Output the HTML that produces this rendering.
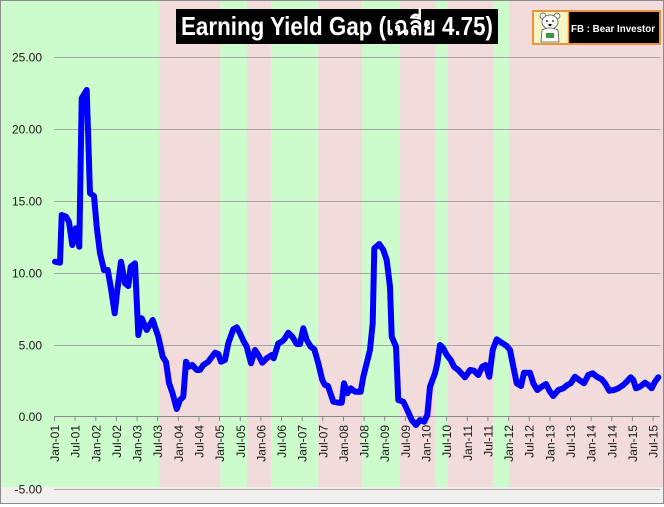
<!DOCTYPE html>
<html><head><meta charset="utf-8"><style>
html,body{margin:0;padding:0;background:#fff;}
svg{display:block;}
text{font-family:"Liberation Sans","DejaVu Sans","Noto Sans CJK SC",sans-serif;}
</style></head><body>
<svg width="664" height="507" viewBox="0 0 664 507" xmlns="http://www.w3.org/2000/svg">
<rect x="0" y="0" width="664" height="507" fill="#ffffff"/>
<rect x="1" y="1" width="662" height="502" fill="#f2efef"/>
<!-- bands -->
<g>
<rect x="1" y="1" width="158.3" height="486" fill="#ccfccc"/>
<rect x="159.3" y="1" width="61" height="486" fill="#f1dcdb"/>
<rect x="220.3" y="1" width="26.7" height="486" fill="#ccfccc"/>
<rect x="247" y="1" width="24.3" height="486" fill="#f1dcdb"/>
<rect x="271.3" y="1" width="47" height="486" fill="#ccfccc"/>
<rect x="318.3" y="1" width="44" height="486" fill="#f1dcdb"/>
<rect x="362.3" y="1" width="37.4" height="486" fill="#ccfccc"/>
<rect x="399.7" y="1" width="35.6" height="486" fill="#f1dcdb"/>
<rect x="435.3" y="1" width="12.7" height="486" fill="#ccfccc"/>
<rect x="448" y="1" width="45" height="486" fill="#f1dcdb"/>
<rect x="493" y="1" width="16" height="486" fill="#ccfccc"/>
<rect x="509" y="1" width="154" height="486" fill="#f1dcdb"/>
</g>
<rect x="0.5" y="0.5" width="663" height="503" fill="none" stroke="#8c8c8c" stroke-width="1"/>
<!-- gridlines -->
<g stroke="#a8a8a8" stroke-width="1">
<line x1="54" y1="57.5" x2="660" y2="57.5"/>
<line x1="54" y1="129.5" x2="660" y2="129.5"/>
<line x1="54" y1="201.5" x2="660" y2="201.5"/>
<line x1="54" y1="273.5" x2="660" y2="273.5"/>
<line x1="54" y1="345.5" x2="660" y2="345.5"/>
<line x1="54" y1="489.5" x2="660" y2="489.5"/>
</g>
<line x1="54" y1="416.5" x2="660" y2="416.5" stroke="#8a8a8a" stroke-width="1"/>
<g stroke="#8a8a8a" stroke-width="1" id="ticks">
<line x1="54.5" y1="416" x2="54.5" y2="421"/><line x1="75.1" y1="416" x2="75.1" y2="421"/><line x1="95.8" y1="416" x2="95.8" y2="421"/><line x1="116.4" y1="416" x2="116.4" y2="421"/><line x1="137.1" y1="416" x2="137.1" y2="421"/><line x1="157.7" y1="416" x2="157.7" y2="421"/><line x1="178.3" y1="416" x2="178.3" y2="421"/><line x1="199" y1="416" x2="199" y2="421"/><line x1="219.6" y1="416" x2="219.6" y2="421"/><line x1="240.3" y1="416" x2="240.3" y2="421"/><line x1="260.9" y1="416" x2="260.9" y2="421"/><line x1="281.5" y1="416" x2="281.5" y2="421"/><line x1="302.2" y1="416" x2="302.2" y2="421"/><line x1="322.8" y1="416" x2="322.8" y2="421"/><line x1="343.5" y1="416" x2="343.5" y2="421"/><line x1="364.1" y1="416" x2="364.1" y2="421"/><line x1="384.7" y1="416" x2="384.7" y2="421"/><line x1="405.4" y1="416" x2="405.4" y2="421"/><line x1="426" y1="416" x2="426" y2="421"/><line x1="446.7" y1="416" x2="446.7" y2="421"/><line x1="467.3" y1="416" x2="467.3" y2="421"/><line x1="487.9" y1="416" x2="487.9" y2="421"/><line x1="508.6" y1="416" x2="508.6" y2="421"/><line x1="529.2" y1="416" x2="529.2" y2="421"/><line x1="549.9" y1="416" x2="549.9" y2="421"/><line x1="570.5" y1="416" x2="570.5" y2="421"/><line x1="591.1" y1="416" x2="591.1" y2="421"/><line x1="611.8" y1="416" x2="611.8" y2="421"/><line x1="632.4" y1="416" x2="632.4" y2="421"/><line x1="653.1" y1="416" x2="653.1" y2="421"/>
</g>
<!-- y labels -->
<g font-size="12" fill="#1a1a1a" text-anchor="end">
<text x="42" y="61.5">25.00</text>
<text x="42" y="133.5">20.00</text>
<text x="42" y="205.5">15.00</text>
<text x="42" y="277.5">10.00</text>
<text x="42" y="349.5">5.00</text>
<text x="42" y="421">0.00</text>
<text x="42" y="493.5">-5.00</text>
</g>
<!-- x labels -->
<g font-size="12" fill="#1a1a1a" text-anchor="end">
<text transform="translate(59,425) rotate(-90)">Jan-01</text>
<text transform="translate(79.6,425) rotate(-90)">Jul-01</text>
<text transform="translate(100.3,425) rotate(-90)">Jan-02</text>
<text transform="translate(120.9,425) rotate(-90)">Jul-02</text>
<text transform="translate(141.6,425) rotate(-90)">Jan-03</text>
<text transform="translate(162.2,425) rotate(-90)">Jul-03</text>
<text transform="translate(182.8,425) rotate(-90)">Jan-04</text>
<text transform="translate(203.5,425) rotate(-90)">Jul-04</text>
<text transform="translate(224.1,425) rotate(-90)">Jan-05</text>
<text transform="translate(244.8,425) rotate(-90)">Jul-05</text>
<text transform="translate(265.4,425) rotate(-90)">Jan-06</text>
<text transform="translate(286,425) rotate(-90)">Jul-06</text>
<text transform="translate(306.7,425) rotate(-90)">Jan-07</text>
<text transform="translate(327.3,425) rotate(-90)">Jul-07</text>
<text transform="translate(348,425) rotate(-90)">Jan-08</text>
<text transform="translate(368.6,425) rotate(-90)">Jul-08</text>
<text transform="translate(389.2,425) rotate(-90)">Jan-09</text>
<text transform="translate(409.9,425) rotate(-90)">Jul-09</text>
<text transform="translate(430.5,425) rotate(-90)">Jan-10</text>
<text transform="translate(451.2,425) rotate(-90)">Jul-10</text>
<text transform="translate(471.8,425) rotate(-90)">Jan-11</text>
<text transform="translate(492.4,425) rotate(-90)">Jul-11</text>
<text transform="translate(513.1,425) rotate(-90)">Jan-12</text>
<text transform="translate(533.7,425) rotate(-90)">Jul-12</text>
<text transform="translate(554.4,425) rotate(-90)">Jan-13</text>
<text transform="translate(575,425) rotate(-90)">Jul-13</text>
<text transform="translate(595.6,425) rotate(-90)">Jan-14</text>
<text transform="translate(616.3,425) rotate(-90)">Jul-14</text>
<text transform="translate(636.9,425) rotate(-90)">Jan-15</text>
<text transform="translate(657.6,425) rotate(-90)">Jul-15</text>
</g>
<!-- series -->
<polyline fill="none" stroke="#0000ff" stroke-width="6" stroke-linejoin="round" stroke-linecap="round" points="55,261.7 60,262.7 61.7,215 66,216.7 69,222 72.3,245 75.7,228.3 79.3,246.7 81.7,98.3 86.7,90 90,193.3 94,196 96.7,226.7 100,253.3 104,270 107.7,270 110.7,286.7 114.7,313.3 117.3,290 121,261.7 125,283.3 128.3,286 130.7,266.7 135,263.3 138.3,335 141.7,318.3 146.7,330 152.7,320 158.3,336.7 162.7,356.7 166,362 169,383 172.5,393 176.7,409 180,400 183.3,396.7 186,361.7 189,366.7 192.3,365 196.7,370 200,370 203.3,365 208.3,361.7 215,352.7 218.3,354 221,361.7 225,360 228.3,343.3 233.3,329.3 236.7,327.3 240,333.3 243.3,340.7 246.7,346.7 251,363.3 255,350 258.3,355 262.3,362.7 266.7,358.3 271.7,355 273.7,358.3 278.3,343.3 281.7,341.7 284.3,339.3 288.3,332.7 292.3,336.7 296.7,344 300,344 303.3,328.3 306.7,340 310.7,346.7 314.3,349.3 318.3,363.3 322.3,380 325,385 328,386 333.3,401.7 338.3,402.7 341.7,402.7 344,383.3 347.3,393.3 350.7,388.3 355,391.7 360.7,391.7 363.3,376.7 366.7,363.3 370,350 372.7,323.3 374.3,248.3 379.3,244 383.3,250 386.7,260 390,286.7 391.7,336.7 396,346.7 398.3,400 403.3,401.7 407.3,410 411.7,420 416,425 420,420 424.3,421.7 427.3,415 430,386.7 435,373.3 437.3,363.3 440,345 443.3,348.3 446.7,355 450.7,360 454,366.7 458.3,370 465,377.3 470,370 474,370.7 478.3,375 482.3,366.7 485.7,365 489.3,376.7 492.7,350 496.7,339.3 501.7,342.7 506.7,346 510,350 514,370 516.7,383.3 521,386 524,372.7 530,372.7 533.3,383.3 537.3,390 541.7,386.7 546,384 550,391.7 553.3,396 558.3,390 563.3,388.3 567.3,385 570.7,383.3 575,376.7 579.3,380 584,383.3 588.3,375 592.7,373.3 596.7,376.7 601.7,379.3 605,383.3 609.3,390.7 614,390 618.3,388.3 623.3,385 626.7,381.7 630.7,377.3 633.3,380 636,388.3 640,386.7 645,382.7 648.3,385 651.7,388.3 655,381.7 658.3,377.3"/>
<!-- title -->
<rect x="176" y="9" width="322" height="35" fill="#000"/>
<text x="181" y="35" font-size="26" font-weight="bold" fill="#fff" textLength="312" lengthAdjust="spacingAndGlyphs">Earning Yield Gap (เฉลี่ย 4.75)</text>
<!-- logo -->
<rect x="533" y="11" width="127" height="33" fill="#000" stroke="#f0913c" stroke-width="2"/>
<rect x="534" y="12" width="34" height="31" fill="#f4f7c4"/>
<line x1="568.5" y1="11" x2="568.5" y2="44" stroke="#f0913c" stroke-width="1.5"/>
<g stroke="#555" stroke-width="0.8" fill="#fff">
<circle cx="543" cy="16" r="3"/>
<circle cx="557" cy="16" r="3"/>
<ellipse cx="550" cy="22" rx="8" ry="7"/>
<path d="M541 42 L542 30 Q550 26 558 30 L559 42 Z"/>
</g>
<rect x="546" y="33" width="8" height="5" fill="#3a9a3a"/>
<circle cx="547" cy="21" r="0.9" fill="#000"/>
<circle cx="553" cy="21" r="0.9" fill="#000"/>
<ellipse cx="550" cy="25" rx="1.6" ry="1.2" fill="#000"/>
<text x="571" y="32" font-size="10.5" font-weight="bold" fill="#fff" textLength="84" lengthAdjust="spacingAndGlyphs">FB : Bear Investor</text>
</svg>
</body></html>
